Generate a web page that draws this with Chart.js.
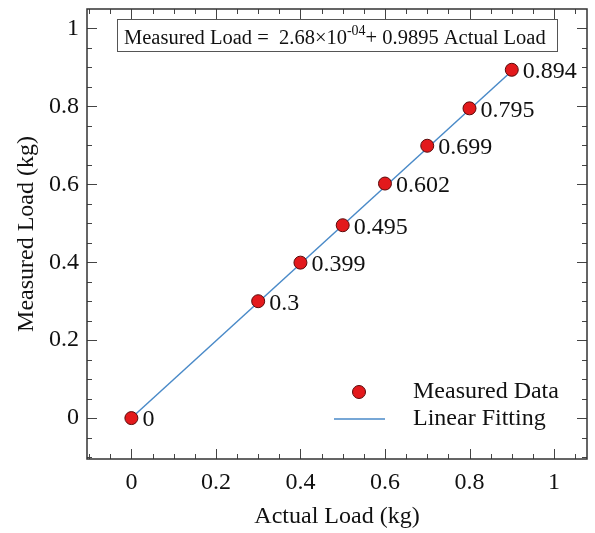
<!DOCTYPE html>
<html>
<head>
<meta charset="utf-8">
<script src="https://cdn.jsdelivr.net/npm/chart.js@4"></script>
<style>
  html, body { margin: 0; padding: 0; background: #fff; }
  #wrap { width: 595px; height: 533px; }
</style>
</head>
<body>
<div id="wrap"><canvas id="loadChart"></canvas></div>
<script>
const actualLoad = [0, 0.3, 0.4, 0.5, 0.6, 0.7, 0.8, 0.9];
const measuredLoad = [0, 0.3, 0.399, 0.495, 0.602, 0.699, 0.795, 0.894];
const fitX = [0, 0.9];
const fitY = [0.000268, 0.8908];
const tickValues = [0, 0.2, 0.4, 0.6, 0.8, 1];

const SERIF = '"Liberation Serif", "Times New Roman", serif';

const measuredPoints = actualLoad.map((v, i) => ({ x: v, y: measuredLoad[i] }));
const fitPoints = fitX.map((v, i) => ({ x: v, y: fitY[i] }));

// inward ticks + box frame
const framePlugin = {
  id: "frame",
  afterDraw(chart) {
    const { ctx, chartArea: a, scales } = chart;
    const x = scales.x, y = scales.y;
    ctx.save();
    ctx.strokeStyle = "#444";
    ctx.lineWidth = 1;
    ctx.beginPath();
    for (let i = -2; i <= 21; i++) {
      const v = i * 0.05;
      const len = i % 4 === 0 ? 10 : 5;
      const px = Math.round(x.getPixelForValue(v)) + 0.5;
      if (px > a.left + 1 && px < a.right - 1) {
        ctx.moveTo(px, a.bottom); ctx.lineTo(px, a.bottom - len);
        ctx.moveTo(px, a.top); ctx.lineTo(px, a.top + len);
      }
      const py = Math.round(y.getPixelForValue(v)) + 0.5;
      if (py > a.top + 1 && py < a.bottom - 1) {
        ctx.moveTo(a.left, py); ctx.lineTo(a.left + len, py);
        ctx.moveTo(a.right, py); ctx.lineTo(a.right - len, py);
      }
    }
    ctx.stroke();
    ctx.lineWidth = 1.5;
    ctx.strokeStyle = "#333";
    ctx.strokeRect(a.left, a.top, a.right - a.left, a.bottom - a.top);
    ctx.restore();
  },
};

// value labels, equation box and legend
const notesPlugin = {
  id: "notes",
  afterDatasetsDraw(chart) {
    const { ctx, chartArea: a } = chart;
    ctx.save();
    ctx.fillStyle = "#111";

    // labels next to the points
    const meta = chart.getDatasetMeta(0);
    ctx.font = "24px " + SERIF;
    ctx.textBaseline = "middle";
    ctx.textAlign = "left";
    meta.data.forEach((pt, i) => {
      ctx.fillText(String(measuredLoad[i]), pt.x + 11, pt.y + 2);
    });

    // equation box
    const bx = a.left + 30, by = a.top + 10, bw = 440, bh = 32;
    ctx.fillStyle = "#fff";
    ctx.fillRect(bx, by, bw, bh);
    ctx.strokeStyle = "#555";
    ctx.lineWidth = 1;
    ctx.strokeRect(bx + 0.5, by + 0.5, bw, bh);
    ctx.fillStyle = "#111";
    ctx.textBaseline = "alphabetic";
    let tx = bx + 7;
    const base = by + 25;
    ctx.font = "20.5px " + SERIF;
    let s = "Measured Load =  2.68\u00d710";
    ctx.fillText(s, tx, base);
    tx += ctx.measureText(s).width;
    ctx.font = "14px " + SERIF;
    s = "-04";
    ctx.fillText(s, tx, base - 9);
    tx += ctx.measureText(s).width;
    ctx.font = "20.5px " + SERIF;
    ctx.fillText("+ 0.9895 Actual Load", tx, base);

    // legend
    const lx = a.left + 272;
    const ly1 = a.bottom - 67, ly2 = a.bottom - 40;
    ctx.beginPath();
    ctx.arc(lx, ly1, 6.5, 0, Math.PI * 2);
    ctx.fillStyle = "#e3191c";
    ctx.fill();
    ctx.strokeStyle = "#5a0a0a";
    ctx.lineWidth = 1;
    ctx.stroke();
    ctx.beginPath();
    ctx.moveTo(lx - 25, ly2);
    ctx.lineTo(lx + 26, ly2);
    ctx.strokeStyle = "#4a8ac8";
    ctx.lineWidth = 1.5;
    ctx.stroke();
    ctx.fillStyle = "#111";
    ctx.font = "24px " + SERIF;
    ctx.textBaseline = "middle";
    ctx.fillText(chart.data.datasets[0].label, lx + 54, ly1);
    ctx.fillText(chart.data.datasets[1].label, lx + 54, ly2);
    ctx.restore();
  },
};

const setTicks = (scale) => {
  scale.ticks = tickValues.map((v) => ({ value: v }));
};

new Chart(document.getElementById("loadChart"), {
  type: "scatter",
  data: {
    datasets: [
      {
        label: "Measured Data",
        data: measuredPoints,
        backgroundColor: "#e3191c",
        borderColor: "#5a0a0a",
        borderWidth: 1,
        pointRadius: 6.5,
      },
      {
        label: "Linear Fitting",
        data: fitPoints,
        showLine: true,
        borderColor: "#4a8ac8",
        borderWidth: 1.5,
        pointRadius: 0,
      },
    ],
  },
  options: {
    responsive: true,
    maintainAspectRatio: false,
    animation: false,
    layout: { padding: { top: 9, right: 8, left: 0, bottom: 0 } },
    plugins: {
      legend: { display: false },
      tooltip: { enabled: false },
    },
    scales: {
      x: {
        type: "linear",
        min: -0.105,
        max: 1.078,
        grid: { display: false, drawTicks: false },
        border: { display: false },
        afterBuildTicks: setTicks,
        afterFit: (scale) => {
          scale.height = 74;
          scale.paddingLeft = 0;
          scale.paddingRight = 0;
        },
        ticks: {
          color: "#111",
          padding: 9,
          font: { family: SERIF, size: 24 },
          callback: (v) => String(v),
        },
        title: {
          display: true,
          text: "Actual Load (kg)",
          color: "#111",
          font: { family: SERIF, size: 24 },
          padding: { top: 0, bottom: 2 },
        },
      },
      y: {
        type: "linear",
        min: -0.105,
        max: 1.05,
        grid: { display: false, drawTicks: false },
        border: { display: false },
        afterBuildTicks: setTicks,
        afterFit: (scale) => {
          scale.width = 87;
          scale.paddingTop = 0;
          scale.paddingBottom = 0;
        },
        ticks: {
          color: "#111",
          padding: 8,
          font: { family: SERIF, size: 24 },
          callback: (v) => String(v),
        },
        title: {
          display: true,
          text: "Measured Load (kg)",
          color: "#111",
          font: { family: SERIF, size: 24 },
          padding: { top: 12, bottom: 0 },
        },
      },
    },
  },
  plugins: [framePlugin, notesPlugin],
});
</script>
</body>
</html>
